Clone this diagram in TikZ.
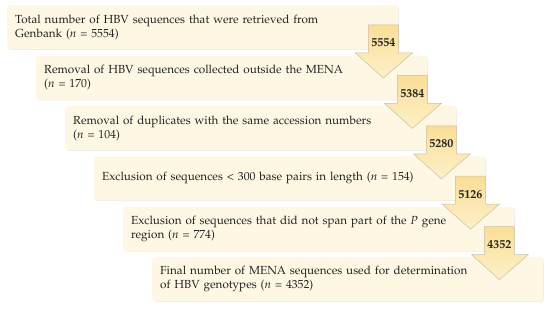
\documentclass[tikz,border=0pt]{standalone}
\usepackage[T1]{fontenc}
\usepackage{mathpazo}
\usepackage{tikz}
\usetikzlibrary{positioning,calc,shadows}
\definecolor{creamfill}{HTML}{FDF7E4}
\definecolor{arrowtop}{HTML}{FADE96}
\definecolor{arrowbot}{HTML}{FDF0C9}
\definecolor{arrowedge}{HTML}{C9BFA6}
\definecolor{inkgrey}{HTML}{222222}
\tikzset{
  stagebox/.style = {fill=creamfill, rounded corners=3pt, anchor=north west,
                     minimum width=390pt, minimum height=44pt, text width=375pt,
                     inner xsep=8pt, align=left, text=inkgrey,
                     font=\fontsize{11.7}{14}\selectfont,
                     drop shadow={shadow xshift=0.8pt, shadow yshift=-0.8pt,
                                  opacity=0.18, fill=black!40}},
  countarrow/.style = {draw=arrowedge, line width=0.5pt, top color=arrowtop,
                       bottom color=arrowbot, line join=miter},
  countlabel/.style = {anchor=base, inner sep=0pt, text=inkgrey,
                       font=\fontsize{12}{14}\selectfont\bfseries},
}
% block arrow hanging from the right end of a box
\newcommand{\countarrow}[2]{%
  \draw[countarrow] ($(#1.north east)+(-30pt,-20pt)$) -- ++(30pt,0) -- ++(0,-28pt)
    -- ++(14pt,0) -- ++(-29pt,-25pt) -- ++(-28pt,25pt) -- ++(13pt,0) -- cycle;
  \node[countlabel] at ($(#1.north east)+(-15pt,-42pt)$) {#2};
}

\begin{document}
\begin{tikzpicture}
  \useasboundingbox (0,0) rectangle (550pt,-310pt);
  \node[stagebox] (total) at (7pt,-5pt)
       {Total number of HBV sequences that were retrieved from\\ Genbank (\textit{n} = 5554)};
  \node[stagebox, below right=6pt and 29pt of total.south west] (mena)
       {Removal of HBV sequences collected outside the MENA\\ (\textit{n} = 170)};
  \node[stagebox, below right=6pt and 29pt of mena.south west] (dupl)
       {Removal of duplicates with the same accession numbers\\ (\textit{n} = 104)};
  \node[stagebox, below right=6pt and 29pt of dupl.south west] (short)
       {Exclusion of sequences \textless{} 300 base pairs in length (\textit{n} = 154)};
  \node[stagebox, below right=6pt and 29pt of short.south west] (pgene)
       {Exclusion of sequences that did not span part of the \textit{P} gene\\ region (\textit{n} = 774)};
  \node[stagebox, below right=6pt and 29pt of pgene.south west] (final)
       {Final number of MENA sequences used for determination\\ of HBV genotypes (\textit{n} = 4352)};

  \countarrow{total}{5554}
  \countarrow{mena}{5384}
  \countarrow{dupl}{5280}
  \countarrow{short}{5126}
  \countarrow{pgene}{4352}
\end{tikzpicture}
\end{document}
